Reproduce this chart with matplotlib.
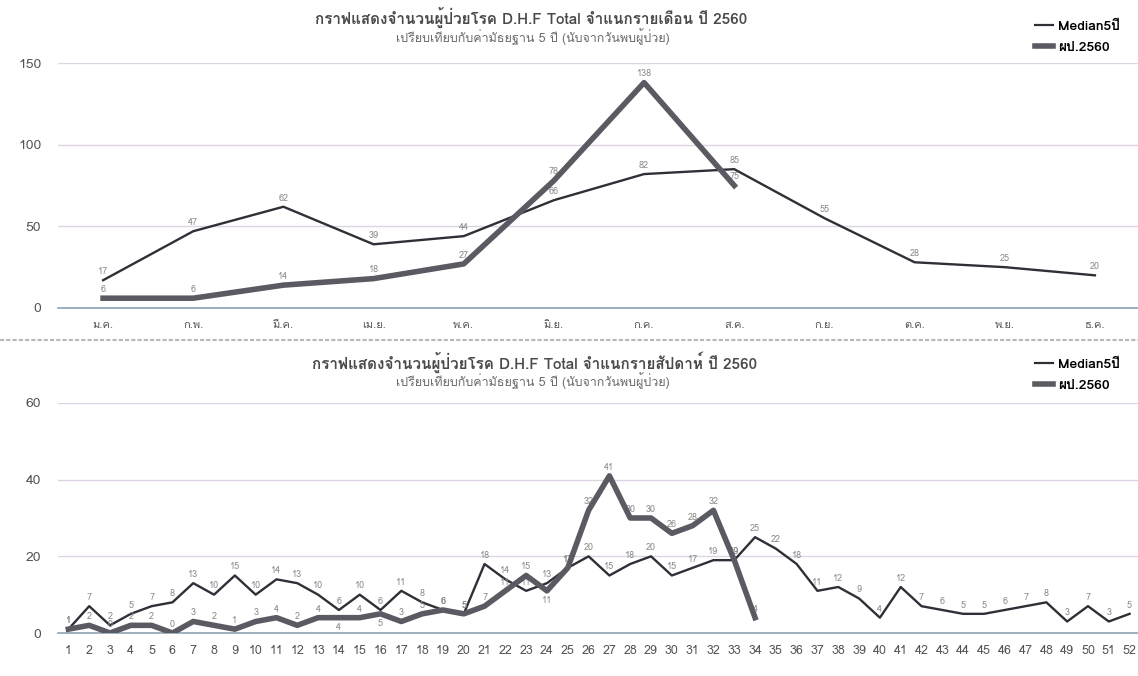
import numpy as np
import matplotlib
matplotlib.use("Agg")
from matplotlib import pyplot as plt
from matplotlib import font_manager
from matplotlib.ft2font import FT2Font
from matplotlib.lines import Line2D


def find_thai_family():
    # pick the first installed font that has Thai glyphs
    for f in font_manager.fontManager.ttflist:
        try:
            if 0x0E01 in FT2Font(f.fname).get_charmap():
                return f.name
        except Exception:
            pass
    return None


thai = find_thai_family()
families = [thai, "DejaVu Sans"] if thai else ["DejaVu Sans"]
plt.rcParams["font.family"] = families

# monthly data
months = ["ม.ค.", "ก.พ.", "มี.ค.", "เม.ย.", "พ.ค.", "มิ.ย.",
          "ก.ค.", "ส.ค.", "ก.ย.", "ต.ค.", "พ.ย.", "ธ.ค."]
median_month = [17, 47, 62, 39, 44, 66, 82, 85, 55, 28, 25, 20]
cases_month = [6, 6, 14, 18, 27, 78, 138, 75]

# weekly data
weeks = [str(i) for i in range(1, 53)]
median_week = [1, 7, 2, 5, 7, 8, 13, 10, 15, 10, 14, 13, 10, 6, 10, 6, 11, 8,
               6, 5, 18, 14, 11, 13, 17, 20, 15, 18, 20, 15, 17, 19, 19, 25,
               22, 18, 11, 12, 9, 4, 12, 7, 6, 5, 5, 6, 7, 8, 3, 7, 3, 5]
cases_week = [1, 2, 0, 2, 2, 0, 3, 2, 1, 3, 4, 2, 4, 4, 4, 5, 3, 5, 6, 5,
              7, 11, 15, 11, 17, 32, 41, 30, 30, 26, 28, 32, 19, 4]

title_m = "กราฟแสดงจำนวนผู้ป่วยโรค D.H.F Total จำแนกรายเดือน ปี 2560"
title_w = "กราฟแสดงจำนวนผู้ป่วยโรค D.H.F Total จำแนกรายสัปดาห์ ปี 2560"
subtitle = "เปรียบเทียบกับค่ามัธยฐาน 5 ปี (นับจากวันพบผู้ป่วย)"
lbl_median = "Median5ปี"
lbl_cases = "ผป.2560"

MED_COLOR = "#2f2f38"
CASE_COLOR = "#5a5a62"
GRID_COLOR = "#ddd3e2"
TEXT_COLOR = "#555555"

fig = plt.figure(figsize=(11.38, 6.76), dpi=100)
W, H = 1138.0, 676.0


def px_axes(left, top, right, bottom):
    return fig.add_axes([left / W, 1 - bottom / H, (right - left) / W, (bottom - top) / H])


def style_axes(ax, labels, ymax, ystep, fs_x):
    n = len(labels)
    ax.set_xlim(-0.5, n - 0.5)
    ax.set_ylim(0, ymax)
    ax.set_xticks(range(n))
    ax.set_xticklabels(labels, fontsize=fs_x, color=TEXT_COLOR)
    ax.set_yticks(np.arange(0, ymax + 1, ystep))
    ax.tick_params(axis="y", length=0, pad=12, labelsize=10, labelcolor=TEXT_COLOR)
    ax.tick_params(axis="x", length=0, pad=9)
    ax.yaxis.grid(True, color=GRID_COLOR, linewidth=1)
    ax.set_axisbelow(True)
    for s in ["top", "right", "left"]:
        ax.spines[s].set_visible(False)
    ax.spines["bottom"].set_color("#8fa3b3")
    ax.spines["bottom"].set_linewidth(1.2)


def add_labels(ax, values, dy, other=None):
    for i, v in enumerate(values):
        off, va = dy, "bottom"
        # push a label under its point when it would sit on the other series' label
        if other is not None and i < len(other) and 2 <= v < other[i] and other[i] - v < 3:
            off, va = -4, "top"
        ax.annotate(str(v), (i, v), xytext=(0, off), textcoords="offset points",
                    ha="center", va=va, fontsize=6.5, color="#8a8a8a")


def add_legend(ax, y):
    handles = [Line2D([], [], color=MED_COLOR, lw=1.6),
               Line2D([], [], color=CASE_COLOR, lw=4)]
    ax.legend(handles, [lbl_median, lbl_cases], loc="upper left",
              bbox_to_anchor=(1022 / W, 1 - y / H), bbox_transform=fig.transFigure,
              frameon=False, handlelength=1.3, handletextpad=0.4, labelspacing=0.6,
              prop={"weight": "bold", "size": 10, "family": families})


# ---- monthly chart
ax1 = px_axes(58, 63, 1140, 308)
style_axes(ax1, months, 150, 50, 8)
x_m = np.arange(len(months))
ax1.plot(x_m, median_month, color=MED_COLOR, lw=1.7, zorder=3)
ax1.plot(x_m[:len(cases_month)], cases_month, color=CASE_COLOR, lw=4, zorder=4)
add_labels(ax1, median_month, 3)
add_labels(ax1, cases_month, 3)
fig.text(531 / W, 1 - 17 / H, title_m, ha="center", va="center", fontsize=11,
         color="#4a4a4a", fontweight="bold")
fig.text(533 / W, 1 - 37 / H, subtitle, ha="center", va="center", fontsize=9,
         color="#6a6a6a")
add_legend(ax1, 8)

# separator between the two charts
fig.add_artist(Line2D([0, 1], [1 - 340 / H, 1 - 340 / H], color="#b8b8b8",
                      lw=1.5, linestyle=(0, (2, 1))))

# ---- weekly chart
ax2 = px_axes(58, 403, 1140, 633)
style_axes(ax2, weeks, 60, 20, 9)
x_w = np.arange(len(weeks))
ax2.plot(x_w, median_week, color=MED_COLOR, lw=1.7, zorder=3)
ax2.plot(x_w[:len(cases_week)], cases_week, color=CASE_COLOR, lw=4, zorder=4)
add_labels(ax2, median_week, 3)
add_labels(ax2, cases_week, 3, other=median_week)
fig.text(535 / W, 1 - 362 / H, title_w, ha="center", va="center", fontsize=11,
         color="#4a4a4a", fontweight="bold")
fig.text(533 / W, 1 - 381 / H, subtitle, ha="center", va="center", fontsize=9,
         color="#6a6a6a")
add_legend(ax2, 346)

fig.savefig("out.png", dpi=100)
